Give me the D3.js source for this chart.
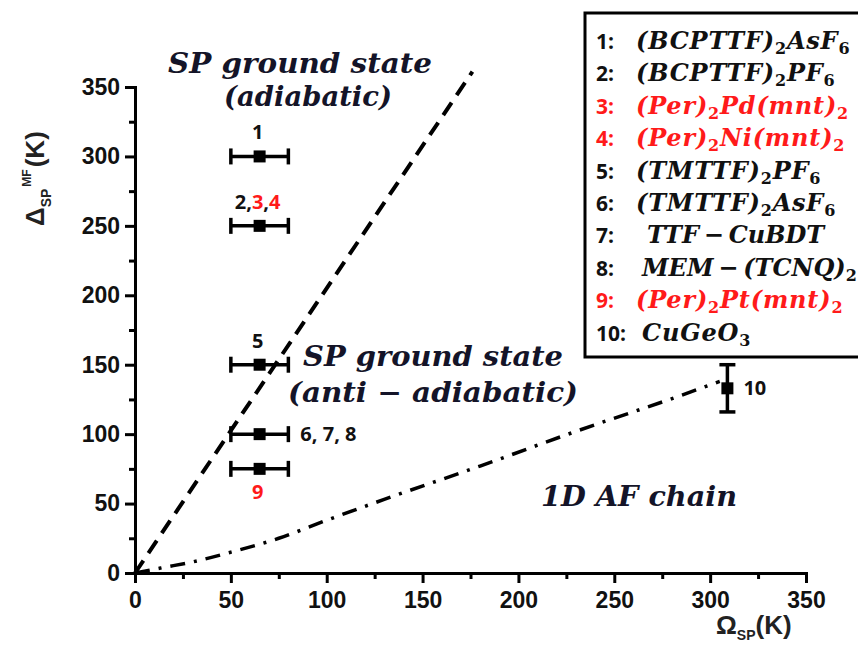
<!DOCTYPE html>
<html>
<head>
<meta charset="utf-8">
<script src="https://cdn.jsdelivr.net/npm/d3@7"></script>
<style>
  html, body { margin: 0; padding: 0; background: #fff; }
  svg { display: block; }
</style>
</head>
<body>
<svg id="chart" width="858" height="648"></svg>
<script>
// --- Data ---
const pointIds   = ["1", "2,3,4", "5", "6,7,8", "9", "10"];
const pointOmega = [65, 65, 65, 65, 65, 309];
const pointDelta = [300, 250, 150, 100, 75, 133];
const omegaErr   = [15, 15, 15, 15, 15, 0];
const deltaErrLo = [0, 0, 0, 0, 0, 116];
const deltaErrHi = [0, 0, 0, 0, 0, 150];

// adiabatic boundary (dashed)
const adiabOmega = [0, 176];
const adiabDelta = [0, 361];

// 1D AF chain (dash-dot)
const chainOmega = [0, 15, 30, 50, 75, 100, 130, 180, 230, 285, 305];
const chainDelta = [0, 4, 8, 15, 25, 38, 53, 77, 102, 128, 138];

const xTicks = [0, 50, 100, 150, 200, 250, 300, 350];
const yTicks = [0, 50, 100, 150, 200, 250, 300, 350];
const minorTicks = [25, 75, 125, 175, 225, 275, 325];

// legend: "_x" = subscript char
const legendNums = ["1:", "2:", "3:", "4:", "5:", "6:", "7:", "8:", "9:", "10:"];
const legendNames = [
    "(BCPTTF)_2AsF_6",
    "(BCPTTF)_2PF_6",
    "(Per)_2Pd(mnt)_2",
    "(Per)_2Ni(mnt)_2",
    "(TMTTF)_2PF_6",
    "(TMTTF)_2AsF_6",
    "TTF\u2009−\u2009CuBDT",
    "MEM\u2009−\u2009(TCNQ)_2",
    "(Per)_2Pt(mnt)_2",
    "CuGeO_3"
];
const legendRed = [false, false, true, true, false, false, false, false, true, false];

const RED = "#ff1a1a";
const svg = d3.select("#chart");

// --- Scales ---
const x = d3.scaleLinear().domain([0, 350]).range([135, 806]);
const y = d3.scaleLinear().domain([0, 350]).range([573, 87]);

// --- Axes ---
const tickFont = "'Liberation Sans', Arial, sans-serif";

function styleAxis(g) {
    g.select(".domain").attr("stroke", "#000").attr("stroke-width", 3);
    g.selectAll(".tick line").attr("stroke", "#000").attr("stroke-width", 3);
    g.selectAll(".tick text")
        .attr("fill", "#111")
        .style("font-family", tickFont)
        .style("font-weight", "bold")
        .style("font-size", "23px");
}

// minor ticks first
svg.append("g")
    .attr("transform", `translate(0,${y(0)})`)
    .call(d3.axisBottom(x).tickValues(minorTicks).tickSize(6).tickFormat(""))
    .call(styleAxis);
svg.append("g")
    .attr("transform", `translate(${x(0)},0)`)
    .call(d3.axisLeft(y).tickValues(minorTicks).tickSize(6).tickFormat(""))
    .call(styleAxis);

svg.append("g")
    .attr("transform", `translate(0,${y(0)})`)
    .call(d3.axisBottom(x).tickValues(xTicks).tickSize(10).tickSizeOuter(0).tickPadding(9))
    .call(styleAxis);
svg.append("g")
    .attr("transform", `translate(${x(0)},0)`)
    .call(d3.axisLeft(y).tickValues(yTicks).tickSize(10).tickSizeOuter(0).tickPadding(5))
    .call(styleAxis);

// --- Axis titles ---
const xt = svg.append("text")
    .attr("x", 716).attr("y", 634)
    .style("font-family", tickFont)
    .style("font-size", "26px")
    .style("font-weight", "bold")
    .attr("fill", "#222");
xt.append("tspan").text("Ω");
xt.append("tspan").attr("dy", 6).style("font-size", "14px").text("SP");
xt.append("tspan").attr("dy", -6).text("(K)");

const yt = svg.append("text")
    .attr("transform", "translate(44,226) rotate(-90)")
    .style("font-family", tickFont)
    .style("font-size", "26px")
    .style("font-weight", "bold")
    .attr("fill", "#222");
yt.append("tspan").text("Δ");
yt.append("tspan").attr("dy", 7).style("font-size", "14px").text("SP");
yt.append("tspan").attr("dy", -20).attr("dx", 2).style("font-size", "12px").text("MF");
yt.append("tspan").attr("dy", 13).attr("dx", 2).text("(K)");

// --- Lines ---
const line = d3.line().x(d => x(d[0])).y(d => y(d[1]));

svg.append("path")
    .datum(d3.zip(adiabOmega, adiabDelta))
    .attr("fill", "none")
    .attr("stroke", "#000")
    .attr("stroke-width", 4)
    .attr("stroke-dasharray", "15,9")
    .attr("d", line);

svg.append("path")
    .datum(d3.zip(chainOmega, chainDelta))
    .attr("fill", "none")
    .attr("stroke", "#000")
    .attr("stroke-width", 3.5)
    .attr("stroke-dasharray", "15,9,3,9")
    .attr("d", line.curve(d3.curveMonotoneX));

// --- Points with error bars ---
const pts = pointIds.map((id, i) => ({
    id, om: pointOmega[i], de: pointDelta[i],
    ex: omegaErr[i], lo: deltaErrLo[i], hi: deltaErrHi[i]
}));

const pg = svg.append("g").attr("stroke", "#000").attr("stroke-width", 3.5);
pts.forEach(p => {
    if (p.ex > 0) {
        pg.append("line")
            .attr("x1", x(p.om - p.ex)).attr("x2", x(p.om + p.ex))
            .attr("y1", y(p.de)).attr("y2", y(p.de));
        [p.om - p.ex, p.om + p.ex].forEach(v => {
            pg.append("line")
                .attr("x1", x(v)).attr("x2", x(v))
                .attr("y1", y(p.de) - 8).attr("y2", y(p.de) + 8);
        });
    }
    if (p.hi > 0) {
        pg.append("line")
            .attr("x1", x(p.om)).attr("x2", x(p.om))
            .attr("y1", y(p.lo)).attr("y2", y(p.hi));
        [p.lo, p.hi].forEach(v => {
            pg.append("line")
                .attr("x1", x(p.om) - 8).attr("x2", x(p.om) + 8)
                .attr("y1", y(v)).attr("y2", y(v));
        });
    }
    svg.append("rect")
        .attr("x", x(p.om) - 6).attr("y", y(p.de) - 6)
        .attr("width", 12).attr("height", 12)
        .attr("fill", "#000");
});

// --- Point labels ---
const lblFont = "'Open Sans', 'Noto Sans', sans-serif";
function pointLabel(xp, yp, anchor, parts) {
    const t = svg.append("text")
        .attr("x", xp).attr("y", yp)
        .attr("text-anchor", anchor)
        .style("font-family", lblFont)
        .style("font-weight", "bold")
        .style("font-size", "20px");
    parts.forEach(([s, c]) => t.append("tspan").attr("fill", c).text(s));
}
pointLabel(x(pointOmega[0]) - 2, y(pointDelta[0]) - 17, "middle", [["1", "#111"]]);
pointLabel(x(pointOmega[1]) - 2, y(pointDelta[1]) - 17, "middle",
    [["2,", "#111"], ["3", RED], [",", "#111"], ["4", RED]]);
pointLabel(x(pointOmega[2]) - 2, y(pointDelta[2]) - 17, "middle", [["5", "#111"]]);
pointLabel(x(pointOmega[3] + omegaErr[3]) + 12, y(pointDelta[3]) + 7, "start", [["6, 7, 8", "#111"]]);
pointLabel(x(pointOmega[4]) - 2, y(pointDelta[4]) + 30, "middle", [["9", RED]]);
pointLabel(x(pointOmega[5]) + 16, y(pointDelta[5]) + 7, "start", [["10", "#111"]]);

// --- Region annotations ---
const mathFont = "'DejaVu Serif', 'Liberation Serif', serif";
function note(xp, yp, str, len) {
    svg.append("text")
        .attr("x", xp).attr("y", yp)
        .attr("text-anchor", "middle")
        .attr("textLength", len)
        .attr("lengthAdjust", "spacingAndGlyphs")
        .style("font-family", mathFont)
        .style("font-style", "italic")
        .style("font-weight", "bold")
        .style("font-size", "27px")
        .attr("fill", "#141428")
        .text(str);
}
note(300, 73, "SP ground state", 264);
note(308, 106, "(adiabatic)", 168);
note(433, 366, "SP ground state", 260);
note(433, 402, "(anti − adiabatic)", 290);
note(639, 506, "1D AF chain", 196);

// --- Legend box ---
svg.append("rect")
    .attr("x", 585).attr("y", 13)
    .attr("width", 300).attr("height", 344)
    .attr("fill", "#fff")
    .attr("stroke", "#000")
    .attr("stroke-width", 3);

legendNames.forEach((name, i) => {
    const yy = 49 + i * 32.4;
    const col = legendRed[i] ? RED : "#111";
    svg.append("text")
        .attr("x", 596).attr("y", yy)
        .style("font-family", lblFont)
        .style("font-weight", "bold")
        .style("font-size", "21px")
        .attr("fill", col)
        .text(legendNums[i]);
    const t = svg.append("text")
        .attr("x", i === 6 ? 647 : (i === 7 || i === 9 ? 642 : 636)).attr("y", yy)
        .style("font-family", mathFont)
        .style("font-style", "italic")
        .style("font-weight", "bold")
        .style("font-size", "24px")
        .style("letter-spacing", (i === 6 || i === 7) ? "0px" : "0.8px")
        .attr("fill", col);
    // split into normal / subscript runs
    let sub = false;
    let shifted = false;
    for (let k = 0; k < name.length; k++) {
        const ch = name[k];
        if (ch === "_") { sub = true; continue; }
        const span = t.append("tspan").text(ch);
        if (sub) {
            span.attr("dy", shifted ? 0 : 5).style("font-size", "16px").style("font-style", "normal");
            shifted = true;
            sub = false;
        } else if (shifted) {
            span.attr("dy", -5);
            shifted = false;
        }
    }
});
</script>
</body>
</html>
